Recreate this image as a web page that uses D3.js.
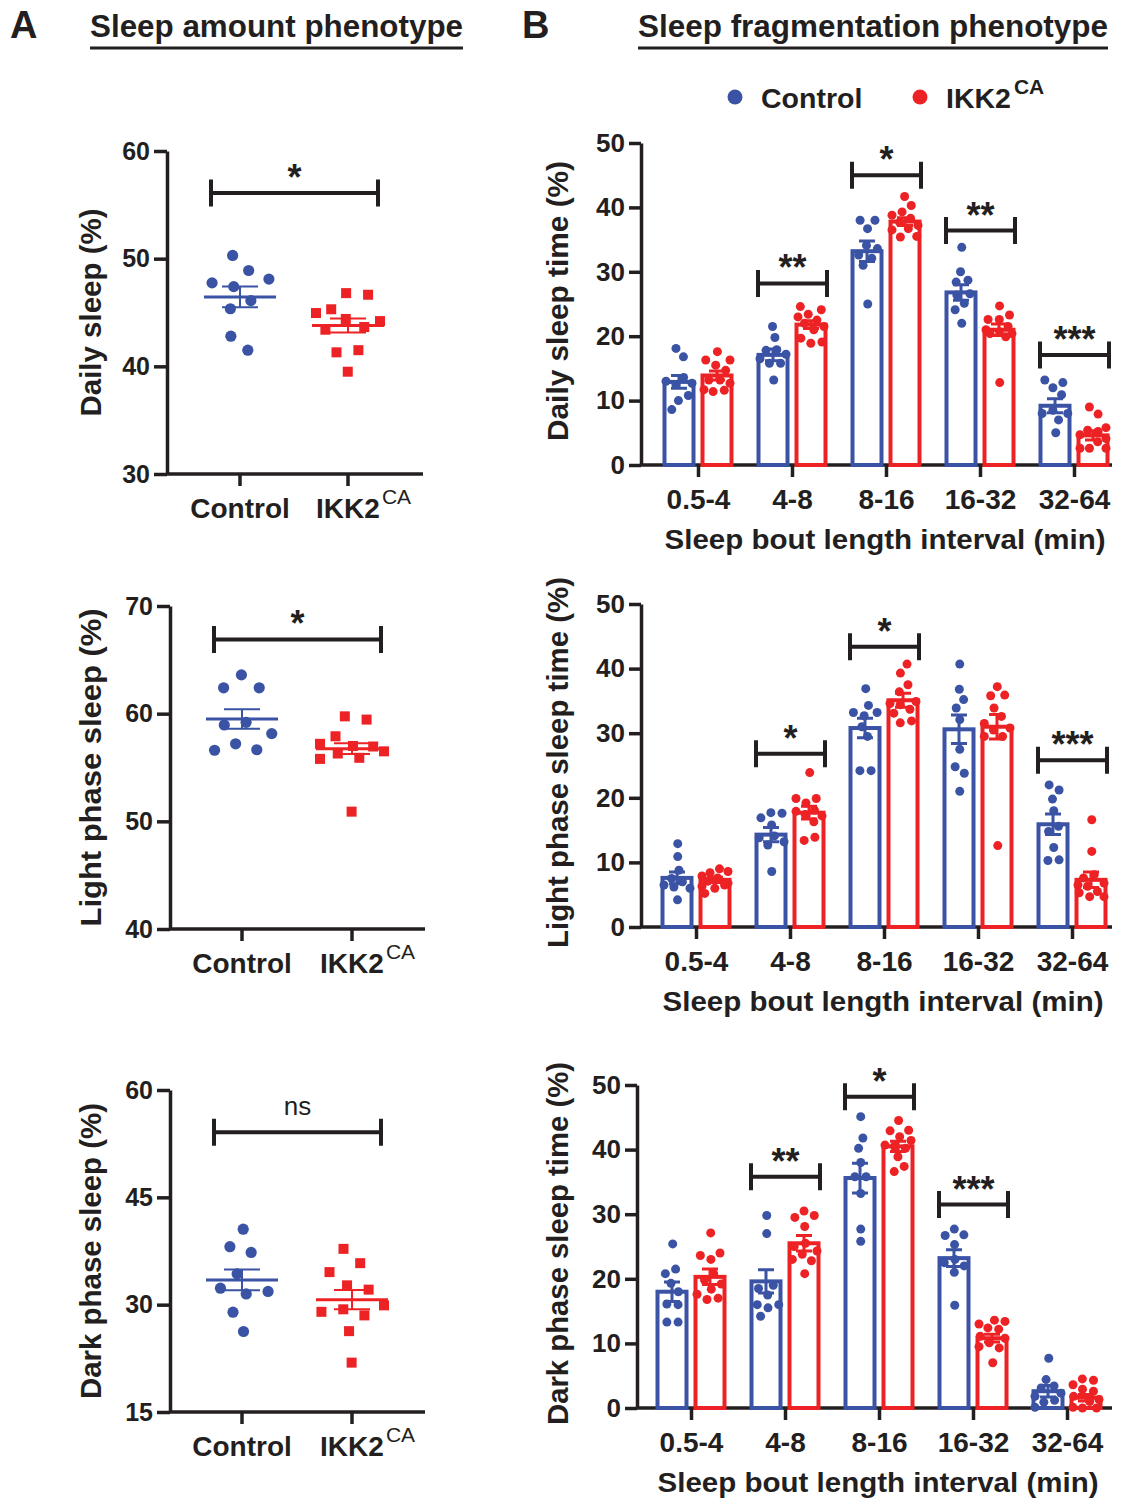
<!DOCTYPE html>
<html>
<head>
<meta charset="utf-8">
<script src="https://cdn.jsdelivr.net/npm/d3@7"></script>
<style>
  body { margin: 0; background: #fff; }
  text { font-family: "Liberation Sans", Arial, Helvetica, sans-serif; fill: #231f20; }
</style>
</head>
<body>
<svg id="chart"></svg>
<script>
const blue = "#3a53a4";
const red = "#ed2224";
const ink = "#231f20";

const groups = ["Control", "IKK2"];
const bins = ["0.5-4", "4-8", "8-16", "16-32", "32-64"];

// ---- panel A: sleep amount (per mouse) ----
const dailyCtrl = [50.3, 48.9, 48.1, 47.75, 47.4, 46.1, 45.35, 42.8, 41.5];
const dailyIkk = [46.8, 46.65, 45.3, 44.95, 44.4, 44.2, 43.65, 43.4, 41.5, 41.3, 39.5];
const dailyMean = [46.45, 43.8];
const dailySem = [0.97, 0.65];

const lightCtrl = [63.6, 62.4, 62.4, 59.2, 58.95, 58.15, 57.2, 56.6, 56.65];
const lightIkk = [59.75, 59.45, 57.9, 57.2, 56.95, 57.0, 56.5, 56.3, 55.9, 55.8, 50.9];
const lightMean = [59.5, 56.75];
const lightSem = [0.9, 0.5];

const darkCtrl = [40.55, 38.1, 37.3, 34.3, 32.3, 31.85, 31.5, 28.95, 26.25];
const darkIkk = [37.8, 35.8, 34.55, 32.7, 32.1, 29.9, 29.35, 29.0, 28.5, 26.3, 21.9];
const darkMean = [33.45, 30.7];
const darkSem = [1.45, 1.35];

const amountSigLabel = ["*", "*", "ns"];
const amountSigLevel = [56.1, 66.9, 54.1];

// ---- panel B: sleep fragmentation (per bout length bin) ----
const fragDailyCtrl = [
  [18.1, 16.8, 13.6, 13.0, 12.7, 12.5, 10.8, 10.0, 8.6],
  [21.5, 19.8, 17.9, 17.8, 17.2, 16.5, 15.8, 15.8, 13.2],
  [38.0, 38.0, 36.7, 34.1, 33.6, 32.6, 32.1, 31.0, 25.0],
  [33.8, 30.0, 28.7, 28.4, 26.6, 26.4, 25.1, 24.1, 22.0],
  [13.2, 12.8, 12.0, 10.9, 8.5, 8.0, 8.0, 7.0, 5.0]
];
const fragDailyIkk = [
  [17.6, 16.3, 16.3, 15.5, 14.7, 13.2, 13.2, 12.7, 11.7, 11.6, 11.4],
  [24.6, 24.1, 23.4, 23.0, 22.5, 22.0, 21.5, 21.0, 19.7, 19.1, 18.9],
  [41.7, 40.3, 39.3, 38.8, 38.3, 37.7, 37.2, 36.7, 36.5, 35.5, 35.4],
  [24.7, 23.3, 22.6, 22.6, 21.5, 21.0, 20.7, 20.4, 20.4, 19.9, 12.8],
  [9.0, 7.9, 5.8, 5.4, 5.2, 4.7, 4.1, 3.6, 2.6, 2.6, 2.6]
];
const fragDailyCtrlMean = [12.9, 17.1, 33.2, 26.8, 9.2];
const fragDailyCtrlSem = [1.0, 0.9, 1.6, 1.2, 1.1];
const fragDailyIkkMean = [13.9, 21.8, 37.8, 21.0, 4.6];
const fragDailyIkkSem = [0.7, 0.6, 0.6, 0.9, 0.7];
const fragDailySig = [["4-8", 28.2, "**"], ["8-16", 45.0, "*"], ["16-32", 36.4, "**"], ["32-64", 17.1, "***"]];

const fragLightCtrl = [
  [12.9, 10.9, 8.8, 7.5, 7.0, 6.5, 6.2, 6.0, 4.2],
  [17.7, 17.6, 16.9, 15.8, 14.1, 13.8, 13.2, 12.7, 8.6],
  [36.9, 34.3, 33.2, 33.2, 32.7, 31.0, 29.5, 24.2, 24.2],
  [40.7, 36.8, 35.2, 33.9, 32.1, 27.5, 24.8, 23.8, 21.0],
  [22.0, 21.2, 19.8, 18.0, 15.6, 14.8, 12.3, 10.4, 10.3]
];
const fragLightIkk = [
  [9.0, 8.6, 8.4, 7.9, 7.6, 7.1, 6.8, 6.5, 6.3, 6.0, 5.2],
  [23.9, 19.9, 19.9, 19.2, 18.1, 17.9, 17.4, 17.2, 16.3, 13.9, 13.4],
  [40.7, 39.3, 37.5, 36.4, 34.9, 34.6, 34.4, 33.7, 33.1, 31.9, 31.6],
  [37.2, 35.9, 35.8, 33.9, 32.6, 31.5, 30.8, 30.5, 29.5, 29.5, 12.6],
  [16.6, 11.7, 8.1, 7.6, 6.8, 6.5, 6.3, 5.5, 5.3, 4.7, 4.7]
];
const fragLightCtrlMean = [7.6, 14.3, 30.8, 30.6, 15.9];
const fragLightCtrlSem = [0.9, 1.1, 1.5, 2.2, 1.6];
const fragLightIkkMean = [7.3, 17.7, 35.1, 31.0, 7.3];
const fragLightIkkSem = [0.4, 1.0, 1.1, 1.9, 1.2];
const fragLightSig = [["4-8", 26.8, "*"], ["8-16", 43.4, "*"], ["32-64", 25.8, "***"]];

const fragDarkCtrl = [
  [25.4, 21.5, 20.8, 19.3, 18.0, 16.1, 16.0, 13.3, 13.3],
  [29.8, 27.0, 19.0, 18.5, 17.5, 16.0, 16.0, 15.5, 14.2],
  [45.1, 41.8, 40.2, 38.0, 35.8, 35.8, 33.2, 27.7, 25.8],
  [27.7, 26.8, 26.7, 25.3, 23.0, 22.5, 22.0, 21.0, 15.9],
  [7.7, 4.4, 3.4, 3.1, 2.3, 1.8, 1.2, 0.9, 0.1]
];
const fragDarkIkk = [
  [27.1, 24.0, 23.6, 23.0, 20.8, 19.8, 19.2, 18.4, 17.6, 17.0, 16.8],
  [30.5, 29.8, 29.5, 28.1, 25.5, 25.0, 24.3, 23.8, 23.0, 22.8, 20.8],
  [44.5, 43.0, 42.9, 42.0, 41.4, 40.7, 40.5, 40.2, 38.9, 37.4, 36.6],
  [13.6, 13.4, 13.0, 12.4, 12.2, 11.1, 10.8, 10.1, 9.5, 9.3, 7.0],
  [4.5, 4.3, 3.6, 2.9, 2.6, 1.8, 1.3, 1.0, 0.1, 0.0, 0.0]
];
const fragDarkCtrlMean = [18.0, 19.6, 35.6, 23.2, 2.6];
const fragDarkCtrlSem = [1.5, 1.8, 2.3, 1.3, 0.9];
const fragDarkIkkMean = [20.3, 25.5, 40.5, 10.8, 1.6];
const fragDarkIkkSem = [1.2, 1.2, 0.8, 0.6, 0.5];
const fragDarkSig = [["4-8", 35.8, "**"], ["8-16", 48.2, "*"], ["16-32", 31.5, "***"]];

const fragTicks = [0, 10, 20, 30, 40, 50];

const width = 1131;
const height = 1503;

const svg = d3.select("#chart").attr("width", width).attr("height", height);
svg.append("rect").attr("width", width).attr("height", height).attr("fill", "#fff");

// beeswarm-ish spread: y fixed at the value, x pushed apart by collisions
function swarm(vals, cx, y, r, maxDx) {
  const nodes = vals.map((v) => ({ v, fy: y(v) }));
  const sim = d3.forceSimulation(nodes)
    .force("x", d3.forceX(cx).strength(0.05))
    .force("collide", d3.forceCollide(r))
    .stop();
  for (let i = 0; i < 300; i++) {
    sim.tick();
    nodes.forEach((n) => { n.x = Math.max(cx - maxDx, Math.min(cx + maxDx, n.x)); });
  }
  return nodes;
}

function styleAxis(g, fontSize) {
  g.select(".domain").attr("stroke", ink).attr("stroke-width", 3.5);
  g.selectAll(".tick line").attr("stroke", ink).attr("stroke-width", 3.5);
  g.selectAll(".tick text")
    .attr("fill", ink)
    .attr("font-size", fontSize)
    .attr("font-weight", "bold")
    .style("font-family", '"Liberation Sans", Arial, sans-serif');
}

function bracket(g, x1, x2, yv, label, bold) {
  g.append("path")
    .attr("d", `M${x1},${yv - 13.5}V${yv + 13.5}M${x1},${yv}H${x2}M${x2},${yv - 13.5}V${yv + 13.5}`)
    .attr("fill", "none")
    .attr("stroke", ink)
    .attr("stroke-width", 4);
  g.append("text")
    .attr("x", (x1 + x2) / 2)
    .attr("y", bold ? yv - 3 : yv - 17)
    .attr("text-anchor", "middle")
    .attr("font-size", bold ? 36 : 26)
    .attr("font-weight", bold ? "bold" : "normal")
    .text(label);
}

function yTitle(g, text, x, yc, len) {
  g.append("text")
    .attr("transform", `translate(${x},${yc}) rotate(-90)`)
    .attr("text-anchor", "middle")
    .attr("font-size", 29)
    .attr("font-weight", "bold")
    .attr("textLength", len)
    .attr("lengthAdjust", "spacingAndGlyphs")
    .text(text);
}

// ---- scatter panels (A) ----
const amountPanels = [
  { title: "Daily sleep (%)", len: 208, ctrl: dailyCtrl, ikk: dailyIkk, mean: dailyMean, sem: dailySem,
    domain: [30, 60], ticks: [30, 40, 50, 60], left: 167, top: 151, bottom: 474, right: 423, xs: [240, 348] },
  { title: "Light phase sleep (%)", len: 318, ctrl: lightCtrl, ikk: lightIkk, mean: lightMean, sem: lightSem,
    domain: [40, 70], ticks: [40, 50, 60, 70], left: 170, top: 606, bottom: 929, right: 425, xs: [242, 352] },
  { title: "Dark phase sleep (%)", len: 296, ctrl: darkCtrl, ikk: darkIkk, mean: darkMean, sem: darkSem,
    domain: [15, 60], ticks: [15, 30, 45, 60], left: 170, top: 1090, bottom: 1412, right: 425, xs: [242, 352] }
];

amountPanels.forEach((p, i) => {
  const g = svg.append("g");
  const y = d3.scaleLinear().domain(p.domain).range([p.bottom, p.top]);
  const x = d3.scaleOrdinal().domain(groups).range(p.xs);

  const yAxis = g.append("g")
    .attr("transform", `translate(${p.left},0)`)
    .call(d3.axisLeft(y).tickValues(p.ticks).tickSize(13).tickSizeOuter(0).tickPadding(4));
  styleAxis(yAxis, 25);

  g.append("line")
    .attr("x1", p.left).attr("x2", p.right)
    .attr("y1", p.bottom).attr("y2", p.bottom)
    .attr("stroke", ink).attr("stroke-width", 3.5);
  g.selectAll(".xtick")
    .data(groups)
    .enter()
    .append("line")
    .attr("x1", (d) => x(d)).attr("x2", (d) => x(d))
    .attr("y1", p.bottom).attr("y2", p.bottom + 12)
    .attr("stroke", ink).attr("stroke-width", 3.5);

  g.selectAll(".xlabel")
    .data(groups)
    .enter()
    .append("text")
    .attr("x", (d) => x(d))
    .attr("y", p.bottom + 44)
    .attr("text-anchor", "middle")
    .attr("font-size", 28)
    .attr("font-weight", "bold")
    .text((d) => d);
  const ikkLabel = g.selectAll("text").filter((d) => d === "IKK2").node();
  const w = ikkLabel.getComputedTextLength();
  g.append("text")
    .attr("x", x("IKK2") + w / 2 + 2)
    .attr("y", p.bottom + 30)
    .attr("font-size", 21)
    .text("CA");

  yTitle(g, p.title, 101, (p.top + p.bottom) / 2, p.len);

  // dots
  const ctrlNodes = swarm(p.ctrl, x("Control"), y, 11, 32);
  g.selectAll(".dot")
    .data(ctrlNodes)
    .enter()
    .append("circle")
    .attr("cx", (d) => d.x)
    .attr("cy", (d) => d.fy)
    .attr("r", 5.6)
    .attr("fill", blue);

  const ikkNodes = swarm(p.ikk, x("IKK2"), y, 11, 32);
  g.selectAll(".sq")
    .data(ikkNodes)
    .enter()
    .append("rect")
    .attr("x", (d) => d.x - 5)
    .attr("y", (d) => d.fy - 5)
    .attr("width", 10)
    .attr("height", 10)
    .attr("fill", red);

  // mean and SEM
  groups.forEach((grp, j) => {
    const cx = x(grp);
    const col = j === 0 ? blue : red;
    const m = p.mean[j];
    const s = p.sem[j];
    g.append("line")
      .attr("x1", cx - 36).attr("x2", cx + 36)
      .attr("y1", y(m)).attr("y2", y(m))
      .attr("stroke", col).attr("stroke-width", 3);
    g.append("path")
      .attr("d", `M${cx},${y(m + s)}V${y(m - s)}M${cx - 18},${y(m + s)}H${cx + 18}M${cx - 18},${y(m - s)}H${cx + 18}`)
      .attr("fill", "none")
      .attr("stroke", col)
      .attr("stroke-width", 2);
  });

  const xm = d3.mean(p.xs);
  bracket(g, xm - 83, xm + 84, y(amountSigLevel[i]), amountSigLabel[i], amountSigLabel[i] !== "ns");
});

// ---- bar panels (B) ----
const fragPanels = [
  { title: "Daily sleep time (%)", len: 280, ctrl: fragDailyCtrl, ikk: fragDailyIkk,
    ctrlMean: fragDailyCtrlMean, ctrlSem: fragDailyCtrlSem, ikkMean: fragDailyIkkMean, ikkSem: fragDailyIkkSem,
    sig: fragDailySig, left: 641, top: 143, bottom: 465, first: 698 },
  { title: "Light phase sleep time (%)", len: 371, ctrl: fragLightCtrl, ikk: fragLightIkk,
    ctrlMean: fragLightCtrlMean, ctrlSem: fragLightCtrlSem, ikkMean: fragLightIkkMean, ikkSem: fragLightIkkSem,
    sig: fragLightSig, left: 641, top: 604, bottom: 927, first: 696 },
  { title: "Dark phase sleep time (%)", len: 363, ctrl: fragDarkCtrl, ikk: fragDarkIkk,
    ctrlMean: fragDarkCtrlMean, ctrlSem: fragDarkCtrlSem, ikkMean: fragDarkIkkMean, ikkSem: fragDarkIkkSem,
    sig: fragDarkSig, left: 637, top: 1085, bottom: 1408, first: 691 }
];

const step = 94;
const barOffset = 19;
const barW = 29;

fragPanels.forEach((p) => {
  const g = svg.append("g");
  const y = d3.scaleLinear().domain([0, 50]).range([p.bottom, p.top]);
  const x = d3.scalePoint().domain(bins).range([p.first, p.first + step * (bins.length - 1)]);

  const yAxis = g.append("g")
    .attr("transform", `translate(${p.left},0)`)
    .call(d3.axisLeft(y).tickValues(fragTicks).tickSize(12).tickSizeOuter(0).tickPadding(4));
  styleAxis(yAxis, 26);

  g.append("line")
    .attr("x1", p.left).attr("x2", 1112)
    .attr("y1", p.bottom).attr("y2", p.bottom)
    .attr("stroke", ink).attr("stroke-width", 3.5);

  const xAxis = g.append("g")
    .attr("transform", `translate(0,${p.bottom})`)
    .call(d3.axisBottom(x).tickSize(12).tickPadding(8));
  xAxis.select(".domain").remove();
  styleAxis(xAxis, 28);
  xAxis.selectAll(".tick text").attr("dy", null).attr("y", 44);

  g.append("text")
    .attr("x", p.first + step * 2 - 1)
    .attr("y", p.bottom + 84)
    .attr("text-anchor", "middle")
    .attr("font-size", 28)
    .attr("font-weight", "bold")
    .attr("textLength", 441)
    .attr("lengthAdjust", "spacingAndGlyphs")
    .text("Sleep bout length interval (min)");

  yTitle(g, p.title, 568, (p.top + p.bottom) / 2 - 3, p.len);

  const series = [
    { vals: p.ctrl, mean: p.ctrlMean, sem: p.ctrlSem, color: blue, dx: -barOffset },
    { vals: p.ikk, mean: p.ikkMean, sem: p.ikkSem, color: red, dx: barOffset }
  ];

  series.forEach((s) => {
    g.selectAll(null)
      .data(bins)
      .enter()
      .append("rect")
      .attr("x", (d) => x(d) + s.dx - barW / 2)
      .attr("y", (d, i) => y(s.mean[i]))
      .attr("width", barW)
      .attr("height", (d, i) => y(0) - y(s.mean[i]))
      .attr("fill", "#fff")
      .attr("stroke", s.color)
      .attr("stroke-width", 4);
  });

  series.forEach((s) => {
    bins.forEach((b, i) => {
      const cx = x(b) + s.dx;
      const nodes = swarm(s.vals[i], cx, y, 5.6, 13);
      g.selectAll(null)
        .data(nodes)
        .enter()
        .append("circle")
        .attr("cx", (d) => d.x)
        .attr("cy", (d) => d.fy)
        .attr("r", 4.5)
        .attr("fill", s.color);
    });
  });

  series.forEach((s) => {
    bins.forEach((b, i) => {
      const cx = x(b) + s.dx;
      const m = s.mean[i];
      const e = s.sem[i];
      g.append("path")
        .attr("d", `M${cx},${y(m + e)}V${y(Math.max(0, m - e))}M${cx - 8},${y(m + e)}H${cx + 8}M${cx - 8},${y(Math.max(0, m - e))}H${cx + 8}`)
        .attr("fill", "none")
        .attr("stroke", s.color)
        .attr("stroke-width", 3);
    });
  });

  p.sig.forEach(([b, v, label]) => {
    bracket(g, x(b) - 34, x(b) + 35, y(v), label, true);
  });
});

// ---- headings and legend ----
svg.append("text").attr("x", 10).attr("y", 38).attr("font-size", 38).attr("font-weight", "bold").text("A");
svg.append("text").attr("x", 522).attr("y", 38).attr("font-size", 38).attr("font-weight", "bold").text("B");

const headings = [
  { text: "Sleep amount phenotype", x: 90, w: 373 },
  { text: "Sleep fragmentation phenotype", x: 638, w: 470 }
];
headings.forEach((h) => {
  svg.append("text")
    .attr("x", h.x)
    .attr("y", 37)
    .attr("font-size", 31)
    .attr("font-weight", "bold")
    .attr("textLength", h.w)
    .attr("lengthAdjust", "spacingAndGlyphs")
    .text(h.text);
  svg.append("line")
    .attr("x1", h.x).attr("x2", h.x + h.w)
    .attr("y1", 48).attr("y2", 48)
    .attr("stroke", ink).attr("stroke-width", 3);
});

const legendItems = [
  { label: "Control", color: blue, x: 735 },
  { label: "IKK2", color: red, x: 920 }
];
const legend = svg.append("g");
legendItems.forEach((d) => {
  legend.append("circle").attr("cx", d.x).attr("cy", 97).attr("r", 7.5).attr("fill", d.color);
  const t = legend.append("text")
    .attr("x", d.x + 26)
    .attr("y", 108)
    .attr("font-size", 28.5)
    .attr("font-weight", "bold")
    .text(d.label);
  if (d.label === "IKK2") {
    legend.append("text")
      .attr("x", d.x + 26 + t.node().getComputedTextLength() + 3)
      .attr("y", 94)
      .attr("font-size", 21)
      .attr("font-weight", "bold")
      .text("CA");
  }
});
</script>
</body>
</html>
